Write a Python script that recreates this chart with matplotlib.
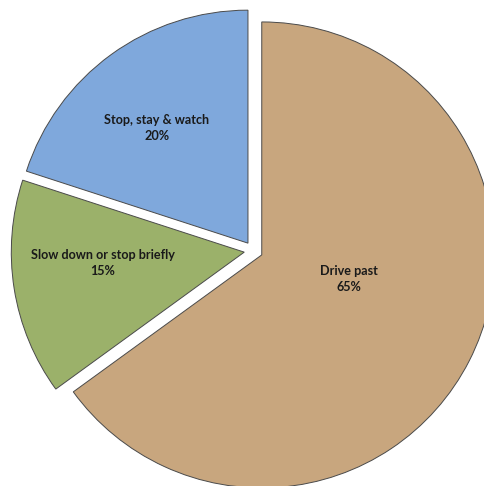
import matplotlib
matplotlib.use('Agg')
import matplotlib.pyplot as plt

# data
labels = ['Drive past', 'Slow down or stop briefly', 'Stop, stay & watch']
shares = [65, 15, 20]
colors = ['#C8A67E', '#9BB16A', '#7FA8DC']

# label placement (data coords, pie radius = 1)
label_xy = [(0.41, -0.122), (-0.646, -0.053), (-0.414, 0.526)]

plt.rcParams['font.family'] = ['Lato', 'DejaVu Sans']

fig = plt.figure(figsize=(4.85, 4.86), dpi=100)
ax = fig.add_axes([0, 0, 1, 1])

wedges, _ = ax.pie(shares, colors=colors, startangle=90, counterclock=False,
                   explode=[0.04] * len(shares),
                   wedgeprops=dict(edgecolor='#4a4a4a', linewidth=0.7))

for (x, y), name, v in zip(label_xy, labels, shares):
    ax.text(x, y, '{}\n{}%'.format(name, v), ha='center', va='center',
            fontsize=9.1, fontweight='bold', color='#1a1a1a', linespacing=1.35)

ax.set_xlim(-1.088, 0.994)
ax.set_ylim(-1.010, 1.076)
ax.set_aspect('auto')
ax.axis('off')

fig.savefig('out.png', dpi=100)
